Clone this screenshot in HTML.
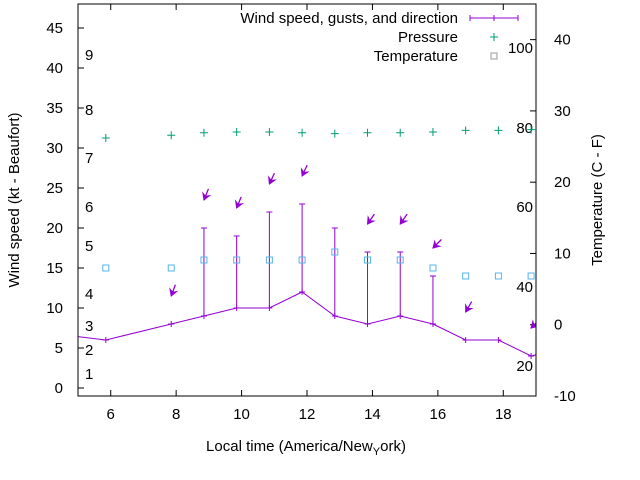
<!DOCTYPE html>
<html><head><meta charset="utf-8"><style>
body{margin:0;background:#fff;}
svg{display:block;font-family:"Liberation Sans",sans-serif;}
</style></head><body>
<svg id="c" width="640" height="480" viewBox="0 0 640 480"></svg>
<script>
const hours=[4.85,5.85,7.85,8.85,9.85,10.85,11.85,12.85,13.85,14.85,15.85,16.85,17.85,18.85,19.85];
const speed=[6.5,6,8,9,10,10,12,9,8,9,8,6,6,4,5];
const gust=[6.5,6,8,20,19,22,23,20,17,17,14,6,6,4,5];
const pressure=[null,31.25,31.6,31.9,32,32,31.9,31.8,31.9,31.9,32,32.2,32.2,32.3,null];
const temperature=[null,15,15,16,16,16,16,17,16,16,15,14,14,14,null];
const arrowHours=[7.85,8.85,9.85,10.85,11.85,13.85,14.85,15.85,16.85,18.85];
const arrowSpeed=[11.5,23.5,22.5,25.5,26.5,20.5,20.5,17.5,9.5,7.5];
const arrowDir=[20,22,22,25,25,35,35,45,30,45];
const xTicks=[6,8,10,12,14,16,18];
const yTicks=[0,5,10,15,20,25,30,35,40,45];
const y2Ticks=[-10,0,10,20,30,40];
const beaufort=[[1,379],[2,355],[3,331],[4,299],[5,251],[6,212],[7,163],[8,115],[9,60]];
const fahr=[[20,371],[40,292],[60,212],[80,133],[100,53]];

const L=78,R=536,T=4,B=396;
const X=h=>L+(h-5)/(19-5)*(R-L);
const Y=v=>B-(v+1)/49*(B-T);
const Y2=v=>B-(v+10)/55*(B-T);
const svg=document.getElementById('c');
const NS='http://www.w3.org/2000/svg';
function mk(tag,attrs,name,parent){const e=document.createElementNS(NS,tag);for(const k in attrs)e.setAttribute(k,attrs[k]);


(parent||svg).appendChild(e);return e;}
function txt(x,y,s,anchor,name,size){const t=mk('text',{x:x,y:y,'text-anchor':anchor||'start','font-size':size||15,fill:'#000'},name);t.textContent=s;return t;}

const clip=mk('clipPath',{id:'pc'},'plot-clip');
mk('rect',{x:L,y:T,width:R-L,height:B-T},'plot-clip-rect',clip);

xTicks.forEach(h=>{const x=X(h);
mk('line',{x1:x,y1:B,x2:x,y2:B-6,stroke:'#000'},'x-tick');
mk('line',{x1:x,y1:T,x2:x,y2:T+6,stroke:'#000'},'x-tick-top');
txt(x,419,String(h),'middle','x-tick-label');});
yTicks.forEach(v=>{const y=Y(v);
mk('line',{x1:L,y1:y,x2:L+6,y2:y,stroke:'#000'},'y-tick');
txt(L-15,y+5,String(v),'end','y-tick-label');});
y2Ticks.forEach(v=>{const y=Y2(v);
mk('line',{x1:R,y1:y,x2:R-6,y2:y,stroke:'#000'},'y2-tick');
txt(R+18,y+5,String(v),'start','y2-tick-label');});
beaufort.forEach(b=>txt(85,b[1],String(b[0]),'start','beaufort-label'));
fahr.forEach(f=>txt(533,f[1],String(f[0]),'end','fahrenheit-label'));

const g=mk('g',{'clip-path':'url(#pc)'},'series-group');
let d='';hours.forEach((h,i)=>{d+=(i?'L':'M')+X(h)+','+Y(speed[i]);});
mk('path',{d:d,fill:'none',stroke:'#9400d3','stroke-width':1},'wind-speed-line',g);
hours.forEach((h,i)=>{const x=X(h),y=Y(speed[i]),yg=Y(gust[i]);
mk('line',{x1:x,y1:y,x2:x,y2:yg,stroke:'#9400d3'},'gust-bar',g);
mk('line',{x1:x-3,y1:y,x2:x+3,y2:y,stroke:'#9400d3'},'speed-cap',g);
mk('line',{x1:x-3,y1:yg,x2:x+3,y2:yg,stroke:'#9400d3'},'gust-cap',g);
mk('line',{x1:x,y1:y-3,x2:x,y2:y+3,stroke:'#9400d3'},'speed-point',g);
if(pressure[i]!=null){const py=Y(pressure[i]);
mk('path',{d:`M${x-4},${py}h8M${x},${py-4}v8`,stroke:'#009e73','stroke-width':1},'pressure-point',g);}
if(temperature[i]!=null){const ty=Y(temperature[i]);
mk('rect',{x:x-3,y:ty-3,width:6,height:6,fill:'none',stroke:'#56b4e9'},'temperature-point',g);}
});
arrowHours.forEach((h,i)=>{const x=X(h),y=Y(arrowSpeed[i]);const a=arrowDir[i]*Math.PI/180;
const tx=x+12*Math.sin(a),ty=y-12*Math.cos(a);
mk('line',{x1:tx,y1:ty,x2:x,y2:y,stroke:'#9400d3','stroke-width':1.3},'wind-direction-arrow',g);
const ux=(x-tx)/12,uy=(y-ty)/12,px=-uy,py=ux;
mk('polygon',{points:`${x},${y} ${x-6*ux+3.5*px},${y-6*uy+3.5*py} ${x-4*ux},${y-4*uy} ${x-6*ux-3.5*px},${y-6*uy-3.5*py}`,fill:'#9400d3',stroke:'#9400d3'},'wind-direction-arrowhead',g);
});

mk('rect',{x:L,y:T,width:R-L,height:B-T,fill:'none',stroke:'#000','stroke-width':1},'plot-border');

txt(458,23,'Wind speed, gusts, and direction','end','legend-wind-label');
mk('line',{x1:470,y1:18,x2:518,y2:18,stroke:'#9400d3'},'legend-wind-sample');
mk('path',{d:'M470,15v6M518,15v6M494,15v6',stroke:'#9400d3'},'legend-wind-caps');
txt(458,42,'Pressure','end','legend-pressure-label');
mk('path',{d:'M490,37h8M494,33v8',stroke:'#009e73'},'legend-pressure-sample');
txt(458,61,'Temperature','end','legend-temperature-label');
mk('rect',{x:491,y:53,width:6,height:6,fill:'none',stroke:'#999'},'legend-temperature-sample');

const yt=txt(0,0,'Wind speed (kt - Beaufort)','middle','y-axis-title');yt.setAttribute('transform','translate(19,200) rotate(-90)');
const y2t=txt(0,0,'Temperature (C - F)','middle','y2-axis-title');y2t.setAttribute('transform','translate(602,200) rotate(-90)');
const xt=mk('text',{x:306,y:451,'text-anchor':'middle','font-size':15},'x-axis-title');
xt.innerHTML='Local time (America/New<tspan dy="4" font-size="11">Y</tspan><tspan dy="-4">ork)</tspan>';
</script>
</body></html>
